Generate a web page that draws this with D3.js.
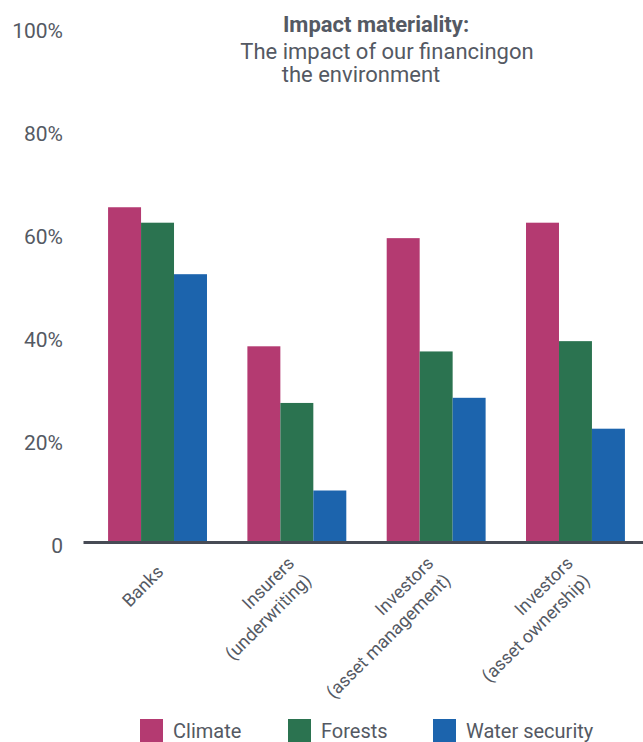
<!DOCTYPE html>
<html>
<head>
<meta charset="utf-8">
<script src="https://cdn.jsdelivr.net/npm/d3@7"></script>
<style>
  html, body { margin: 0; padding: 0; background: #fff; }
  svg { display: block; font-family: Roboto, "Noto Sans", sans-serif; }
</style>
</head>
<body>
<svg id="chart" width="643" height="742"></svg>
<script>
// Share of respondents per sector and environmental theme (%)
const categories = ["Banks", "Insurers\n(underwriting)", "Investors\n(asset management)", "Investors\n(asset ownership)"];
const seriesNames = ["Climate", "Forests", "Water security"];
const climate = [65, 38, 59, 62];
const forests = [62, 27, 37, 39];
const water = [52, 10, 28, 22];
const yTicks = [0, 20, 40, 60, 80, 100];
const colors = ["#b43a71", "#2b7350", "#1c64ad"];
const titleLines = ["Impact materiality:", "The impact of our financingon", "the environment"];

const values = [climate, forests, water];
const rows = categories.map((c, i) => ({
  category: c,
  items: seriesNames.map((s, j) => ({ series: s, value: values[j][i] }))
}));

const svg = d3.select("#chart");
const textColor = "#545963";

const y = d3.scaleLinear().domain([0, 100]).range([542, 27]);
const x0 = d3.scaleBand().domain(categories).range([83, 650])
  .paddingInner(0.29).paddingOuter(0.18);
const x1 = d3.scaleBand().domain(seriesNames).range([0, x0.bandwidth()]);
const color = d3.scaleOrdinal().domain(seriesNames).range(colors);

// bars
const groups = svg.append("g").selectAll("g").data(rows).join("g")
  .attr("transform", d => `translate(${x0(d.category)},0)`);
groups.selectAll("rect").data(d => d.items).join("rect")
  .attr("x", d => x1(d.series))
  .attr("width", x1.bandwidth())
  .attr("y", d => y(d.value))
  .attr("height", d => y(0) - y(d.value))
  .attr("fill", d => color(d.series));

// baseline
const xAxis = svg.append("g").attr("transform", `translate(0,${y(0)})`)
  .call(d3.axisBottom(x0).tickSize(0).tickSizeOuter(0).tickFormat(""));
xAxis.select(".domain").attr("stroke", "#474b55").attr("stroke-width", 3);
xAxis.selectAll(".tick").remove();

// y labels (no gridlines)
const yAxis = svg.append("g").attr("transform", "translate(63,0)")
  .call(d3.axisLeft(y).tickValues(yTicks).tickSize(0).tickPadding(0)
    .tickFormat(d => d === 0 ? "0" : d + "%"));
yAxis.select(".domain").remove();
yAxis.selectAll("text")
  .attr("fill", textColor)
  .attr("font-size", 21)
  .attr("font-family", "Roboto, sans-serif")
  .attr("dy", "0.5em");

// rotated category labels
const lh = 24;
const catLabels = svg.append("g").selectAll("text").data(categories).join("text")
  .attr("transform", d => `translate(${x0(d) + x0.bandwidth() / 2 + 7},573) rotate(-45)`)
  .attr("text-anchor", "end")
  .attr("fill", textColor)
  .attr("font-size", 18);
catLabels.each(function(d) {
  const lines = d.split("\n");
  const t = d3.select(this);
  lines.forEach((ln, k) => {
    t.append("tspan").attr("x", 0)
      .attr("y", (k - (lines.length - 1) / 2) * lh)
      .text(ln);
  });
});

// title
const titleX = [376, 387, 361];
const titleY = [32, 59, 82];
svg.append("g").selectAll("text").data(titleLines).join("text")
  .attr("x", (d, i) => titleX[i])
  .attr("y", (d, i) => titleY[i])
  .attr("text-anchor", "middle")
  .attr("fill", textColor)
  .attr("font-size", 22)
  .attr("font-weight", (d, i) => i === 0 ? 700 : 400)
  .text(d => d);

// legend
const legendX = [140, 288, 433];
const legend = svg.append("g").selectAll("g").data(seriesNames).join("g")
  .attr("transform", (d, i) => `translate(${legendX[i]},719)`);
legend.append("rect").attr("width", 23).attr("height", 23).attr("fill", d => color(d));
legend.append("text").attr("x", 33).attr("y", 19)
  .attr("fill", textColor).attr("font-size", 20)
  .text(d => d);
</script>
</body>
</html>
